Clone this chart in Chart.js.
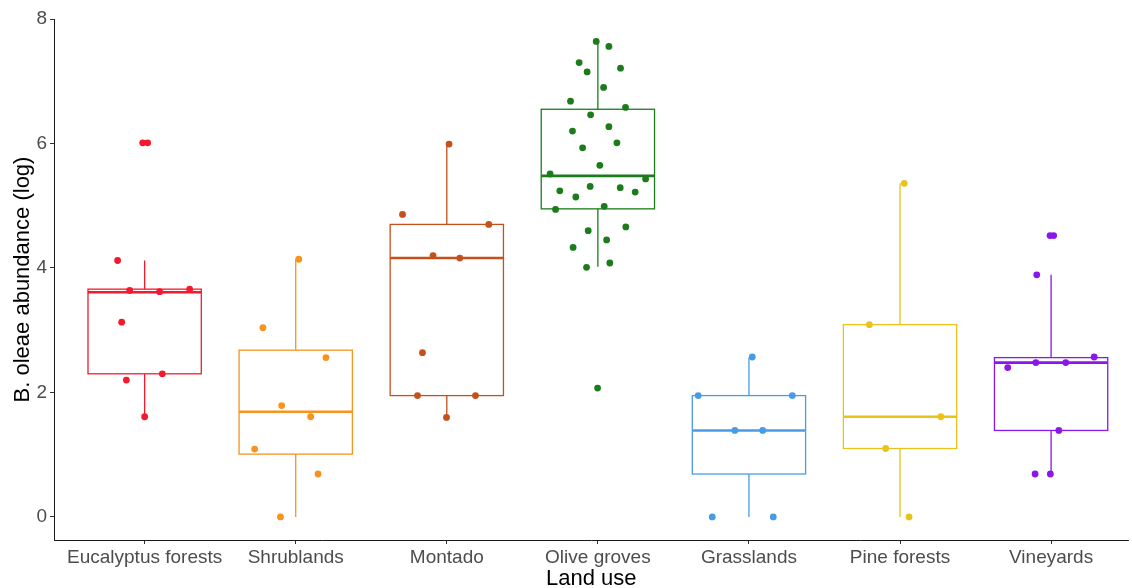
<!DOCTYPE html>
<html>
<head>
<meta charset="utf-8">
<script src="https://cdn.jsdelivr.net/npm/chart.js@4/dist/chart.umd.min.js"></script>
<style>
html,body{margin:0;padding:0;background:#fff;}
#wrap{width:1132px;height:588px;position:relative;}
</style>
</head>
<body>
<div id="wrap"><canvas id="c" width="1132" height="588"></canvas></div>
<script>
// ---- Data ----
const categories = ["Eucalyptus forests","Shrublands","Montado","Olive groves","Grasslands","Pine forests","Vineyards"];
const colors = ["#F31A2E","#F7941D","#C4501B","#1C7C1C","#4A9BE6","#E9C21B","#8B17E8"];
const yTicks = [0,2,4,6,8];

// box statistics
const boxLowerWhisker = [1.61, 0.00, 1.60, 4.02, 0.00, 0.00, 0.69];
const boxQ1           = [2.30, 1.01, 1.95, 4.95, 0.69, 1.10, 1.39];
const boxMedian       = [3.61, 1.69, 4.16, 5.48, 1.39, 1.61, 2.48];
const boxQ3           = [3.66, 2.68, 4.70, 6.55, 1.95, 3.09, 2.56];
const boxUpperWhisker = [4.12, 4.14, 5.99, 7.64, 2.56, 5.36, 3.89];

// jittered observations: values and horizontal jitter (category units)
const eucalyptusValues = [6.01, 6.01, 4.12, 3.64, 3.62, 3.66, 3.13, 2.30, 2.20, 1.61];
const eucalyptusJitter = [-0.013, 0.02, -0.179, -0.099, 0.099, 0.298, -0.152, 0.117, -0.121, 0.0];
const shrublandsValues = [4.14, 3.04, 2.56, 1.79, 1.61, 1.09, 0.69, 0.00];
const shrublandsJitter = [0.02, -0.217, 0.2, -0.093, 0.099, -0.272, 0.148, -0.101];
const montadoValues = [5.99, 4.86, 4.70, 4.20, 4.16, 2.64, 1.95, 1.95, 1.60];
const montadoJitter = [0.015, -0.293, 0.278, -0.091, 0.086, -0.161, -0.194, 0.19, -0.002];
const oliveValues = [7.64, 7.56, 7.30, 7.15, 7.21, 6.90, 6.68, 6.58, 6.46, 6.20, 6.27, 5.93, 6.01, 5.65, 5.51,
                     5.43, 5.24, 5.14, 5.31, 5.29, 5.22, 4.94, 4.99, 4.60, 4.66, 4.45, 4.33, 4.01, 4.08, 2.07];
const oliveJitter = [-0.011, 0.073, -0.124, -0.071, 0.15, 0.038, -0.181, 0.183, -0.048, -0.168, 0.073, -0.101, 0.126, 0.013, -0.316,
                     0.316, -0.252, -0.146, -0.051, 0.148, 0.247, -0.28, 0.042, -0.064, 0.185, 0.058, -0.164, -0.075, 0.079, -0.002];
const grasslandsValues = [2.57, 1.95, 1.95, 1.39, 1.39, 0.00, 0.00];
const grasslandsJitter = [0.022, -0.336, 0.287, -0.093, 0.091, -0.243, 0.161];
const pineValues = [5.36, 3.09, 1.61, 1.10, 0.00];
const pineJitter = [0.028, -0.203, 0.27, -0.095, 0.06];
const vineyardsValues = [4.52, 4.52, 3.89, 2.57, 2.48, 2.48, 2.40, 1.39, 0.69, 0.69];
const vineyardsJitter = [-0.007, 0.017, -0.095, 0.285, -0.101, 0.097, -0.287, 0.051, -0.106, -0.005];

const allValues = [eucalyptusValues, shrublandsValues, montadoValues, oliveValues, grasslandsValues, pineValues, vineyardsValues];
const allJitter = [eucalyptusJitter, shrublandsJitter, montadoJitter, oliveJitter, grasslandsJitter, pineJitter, vineyardsJitter];

// ---- Chart ----
const BOX_WIDTH = 0.75;
const datasets = categories.map((c, i) => ({
  label: c,
  data: allValues[i].map((v, k) => ({x: i + 1 + allJitter[i][k], y: v})),
  backgroundColor: colors[i],
  borderColor: colors[i],
  borderWidth: 0,
  pointRadius: 3.4,
  pointHoverRadius: 3.4
}));

const boxPlugin = {
  id: 'boxes',
  beforeDatasetsDraw(chart) {
    const {ctx, scales: {x, y}} = chart;
    ctx.save();
    categories.forEach((c, i) => {
      const cx = x.getPixelForValue(i + 1);
      const xl = x.getPixelForValue(i + 1 - BOX_WIDTH / 2);
      const xr = x.getPixelForValue(i + 1 + BOX_WIDTH / 2);
      const yq1 = y.getPixelForValue(boxQ1[i]);
      const yq3 = y.getPixelForValue(boxQ3[i]);
      const ymed = y.getPixelForValue(boxMedian[i]);
      const ylo = y.getPixelForValue(boxLowerWhisker[i]);
      const yhi = y.getPixelForValue(boxUpperWhisker[i]);
      ctx.strokeStyle = colors[i];
      ctx.lineWidth = 1.3;
      // whiskers
      ctx.beginPath();
      ctx.moveTo(cx, yq3); ctx.lineTo(cx, yhi);
      ctx.moveTo(cx, yq1); ctx.lineTo(cx, ylo);
      ctx.stroke();
      // box
      ctx.fillStyle = '#ffffff';
      ctx.fillRect(xl, yq3, xr - xl, yq1 - yq3);
      ctx.strokeRect(xl, yq3, xr - xl, yq1 - yq3);
      // median
      ctx.lineWidth = 2.6;
      ctx.beginPath();
      ctx.moveTo(xl, ymed); ctx.lineTo(xr, ymed);
      ctx.stroke();
    });
    ctx.restore();
  }
};

new Chart(document.getElementById('c'), {
  type: 'scatter',
  data: {datasets},
  plugins: [boxPlugin],
  options: {
    responsive: false,
    animation: false,
    events: [],
    layout: {padding: {top: 19, right: 0, bottom: 0, left: 0}},
    plugins: {legend: {display: false}, tooltip: {enabled: false}},
    scales: {
      x: {
        type: 'linear',
        min: 0.4,
        max: 7.513,
        bounds: 'data',
        afterBuildTicks(scale) { scale.ticks = categories.map((c, i) => ({value: i + 1})); },
        afterFit(scale) { scale.height = 48; },
        ticks: {
          autoSkip: false,
          maxRotation: 0,
          padding: 2,
          color: '#4D4D4D',
          font: {family: 'Liberation Sans, Arial, sans-serif', size: 19},
          callback: (v) => categories[Math.round(v) - 1] || ''
        },
        grid: {display: true, drawOnChartArea: false, drawTicks: true, tickLength: 4, tickColor: '#333333', tickWidth: 1},
        border: {display: true, color: '#1a1a1a', width: 1},
        title: {
          display: true,
          text: 'Land use',
          color: '#000000',
          font: {family: 'Liberation Sans, Arial, sans-serif', size: 22, lineHeight: 0.8},
          padding: {top: 0, bottom: 0}
        }
      },
      y: {
        type: 'linear',
        min: -0.37,
        max: 8.0,
        bounds: 'data',
        afterBuildTicks(scale) { scale.ticks = yTicks.map(v => ({value: v})); },
        afterFit(scale) { scale.width = 54; },
        ticks: {
          padding: 3,
          color: '#4D4D4D',
          font: {family: 'Liberation Sans, Arial, sans-serif', size: 19},
          callback: (v) => String(v)
        },
        grid: {display: true, drawOnChartArea: false, drawTicks: true, tickLength: 4, tickColor: '#333333', tickWidth: 1},
        border: {display: true, color: '#1a1a1a', width: 1},
        title: {
          display: true,
          text: 'B. oleae abundance (log)',
          color: '#000000',
          font: {family: 'Liberation Sans, Arial, sans-serif', size: 22, lineHeight: 1.2},
          padding: {top: 10, bottom: 0}
        }
      }
    }
  }
});
</script>
</body>
</html>
